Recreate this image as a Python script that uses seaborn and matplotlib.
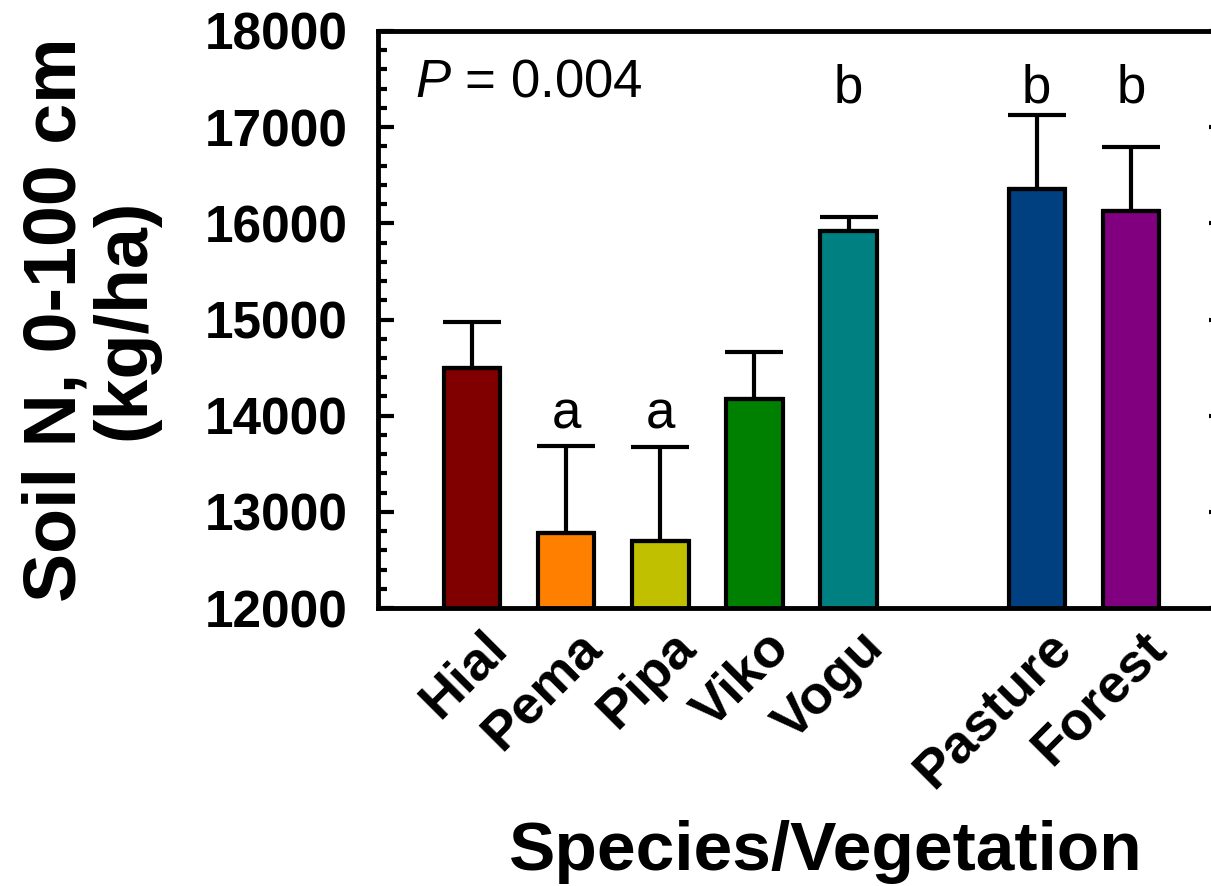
import matplotlib
matplotlib.use('Agg')
import matplotlib.pyplot as plt
import matplotlib.transforms as mtransforms
from matplotlib.ticker import MultipleLocator
import seaborn as sns
import pandas as pd

# ---- data ----
categories = ['Hial', 'Pema', 'Pipa', 'Viko', 'Vogu', 'Pasture', 'Forest']
soil_n = [14500, 12780, 12700, 14170, 15920, 16360, 16130]
soil_n_err = [475, 905, 975, 490, 150, 770, 660]
sig_letters = ['', 'a', 'a', '', 'b', 'b', 'b']
letter_y = [None, 13870, 13870, None, 17260, 17260, 17260]
bar_colors = ['#800000', '#FF8000', '#C0C000', '#008000', '#008080', '#004080', '#800080']
y_ticks = [12000, 13000, 14000, 15000, 16000, 17000, 18000]
p_text = '$P$ = 0.004'
x_title = 'Species/Vegetation'
y_title = 'Soil N, 0-100 cm\n(kg/ha)'

# category axis with a gap between species and vegetation types
order = categories[:5] + [''] + categories[5:]

df = pd.DataFrame({'cat': categories, 'n': soil_n})

sns.set_style('ticks')
plt.rcParams['font.family'] = ['Liberation Sans', 'DejaVu Sans']
plt.rcParams['mathtext.fontset'] = 'custom'
plt.rcParams['mathtext.rm'] = 'Liberation Sans'
plt.rcParams['mathtext.it'] = 'Liberation Sans:italic'
for k in ['text.color', 'axes.labelcolor', 'xtick.color', 'ytick.color',
          'axes.edgecolor']:
    plt.rcParams[k] = 'black'

W, H = 1211, 886
fig = plt.figure(figsize=(W / 100, H / 100), dpi=100)
ax = fig.add_axes([378 / W, (H - 608) / H, 847 / W, 577 / H])

sns.barplot(data=df, x='cat', y='n', hue='cat', order=order,
            palette=dict(zip(categories, bar_colors)), legend=False,
            width=0.6, edgecolor='black', linewidth=3, errorbar=None,
            saturation=1, ax=ax)

xpos = [order.index(c) for c in categories]
ax.errorbar(xpos, soil_n, yerr=[[0] * len(soil_n_err), soil_n_err], fmt='none',
            ecolor='black', elinewidth=3, capsize=21, capthick=3, zorder=1)

for x, lab, ly in zip(xpos, sig_letters, letter_y):
    if lab:
        ax.text(x, ly, lab, ha='center', va='baseline', fontsize=38, color='black')

ax.text(0.044, 0.886, p_text, transform=ax.transAxes, ha='left', va='baseline',
        fontsize=38, color='black')

ax.set_xlim(-1, len(order))
ax.set_ylim(y_ticks[0], y_ticks[-1])
ax.set_yticks(y_ticks)
ax.set_yticklabels([str(t) for t in y_ticks], fontsize=37, fontweight='bold')
ax.yaxis.set_minor_locator(MultipleLocator(200))

for sp in ax.spines.values():
    sp.set_visible(True)
    sp.set_linewidth(3.5)
    sp.set_color('black')

ax.tick_params(axis='y', which='major', direction='in', length=11.5, width=3,
               pad=22, left=True, right=True, color='black', labelcolor='black')
ax.tick_params(axis='y', which='minor', direction='in', length=6.5, width=3,
               left=True, right=True, color='black')
ax.tick_params(axis='x', length=0, pad=30, labelcolor='black')

ax.set_xticks(range(len(order)))
ax.set_xticklabels(order, rotation=45, ha='right', va='baseline',
                   rotation_mode='anchor', fontsize=39, fontweight='bold')
offset = mtransforms.ScaledTranslation(37 / 100, 0, fig.dpi_scale_trans)
for lbl in ax.get_xticklabels():
    lbl.set_transform(lbl.get_transform() + offset)

ax.set_xlabel(x_title, fontsize=50, fontweight='bold', color='black')
ax.xaxis.set_label_coords(0.529, -0.454)
ax.xaxis.label.set_va('baseline')

ax.set_ylabel(y_title, fontsize=53, fontweight='bold', linespacing=1.0,
              color='black')
ax.yaxis.set_label_coords(-0.340, 0.5)
ax.yaxis.label.set_va('center')

fig.savefig('out.png', dpi=100)
